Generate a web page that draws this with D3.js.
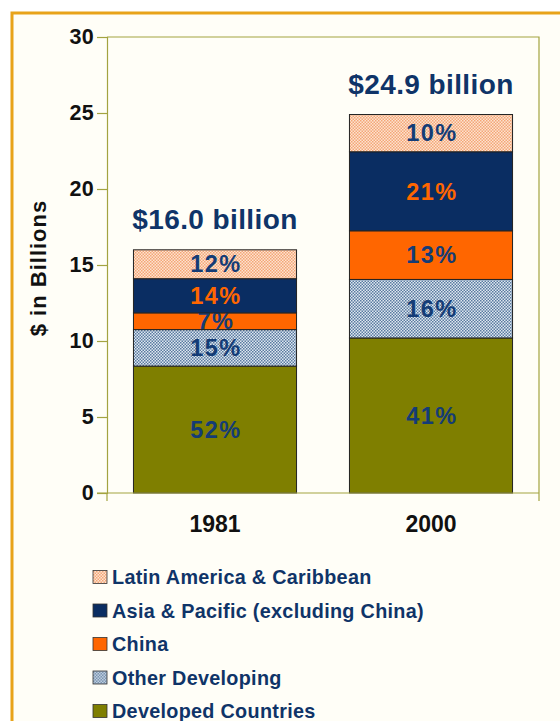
<!DOCTYPE html>
<html>
<head>
  <meta charset="UTF-8">
  <title>Spending by region, 1981 and 2000</title>
  <style>
    body { margin: 0; background: #ffffff; }
    svg { display: block; font-family: "Liberation Sans", Arial, sans-serif; }
    .y.axis .tick text { font-weight: bold; font-size: 21.5px; fill: #111; letter-spacing: 0.3px; }
    .x.axis .tick text { font-weight: bold; font-size: 23px; fill: #111; }
  </style>
</head>
<body>
<svg id="chart"></svg>

<script src="https://d3js.org/d3.v7.min.js"></script>
<script>

// values ($ billions)
const years = ["1981", "2000"];
const regions = ["Developed Countries", "Other Developing", "China", "Asia & Pacific (excluding China)", "Latin America & Caribbean"];
const values1981 = [8.35, 2.4, 1.1, 2.25, 1.9];
const values2000 = [10.2, 3.85, 3.2, 5.2, 2.45];
const shares1981 = ["52%", "15%", "7%", "14%", "12%"];
const shares2000 = ["41%", "16%", "13%", "21%", "10%"];
const totals = ["$16.0 billion", "$24.9 billion"];
const yTicks = [0, 5, 10, 15, 20, 25, 30];

let width = 560, height = 721;
let navy = "#0f3468";
let labelNavy = "#143c76";

let svg = d3.select("#chart")
    .attr("width", width)
    .attr("height", height);

// patterns for the dotted fills
let defs = svg.append("defs");
function checker(id, base, dot) {
    let p = defs.append("pattern")
        .attr("id", id)
        .attr("width", 3).attr("height", 3)
        .attr("patternUnits", "userSpaceOnUse");
    p.append("rect").attr("width", 3).attr("height", 3).attr("fill", base);
    p.append("rect").attr("width", 1.5).attr("height", 1.5).attr("fill", dot);
    p.append("rect").attr("x", 1.5).attr("y", 1.5).attr("width", 1.5).attr("height", 1.5).attr("fill", dot);
}
checker("latin", "#fde3cf", "#f4a677");
checker("otherdev", "#dfe8f0", "#5a7aa0");

let fills = ["#7f7f00", "url(#otherdev)", "#ff6600", "#0a2d62", "url(#latin)"];
let labelColors = [labelNavy, labelNavy, labelNavy, "#ff6600", labelNavy];

// frame
svg.append("rect")
    .attr("x", 12).attr("y", 13)
    .attr("width", width).attr("height", height)
    .attr("fill", "#fffef7")
    .attr("stroke", "#e8a31a")
    .attr("stroke-width", 3);

let x0 = 107, x1 = 539, y0 = 493, y1 = 37;

let x = d3.scaleBand().domain(years).range([x0, x1]).paddingInner(0.245).paddingOuter(0.1225);
let y = d3.scaleLinear().domain([0, 30]).range([y0, y1]);

let rows = years.map((yr, i) => {
    let r = { year: yr };
    let v = i == 0 ? values1981 : values2000;
    let s = i == 0 ? shares1981 : shares2000;
    regions.forEach((reg, j) => { r[reg] = v[j]; r[reg + "_s"] = s[j]; });
    return r;
});

let series = d3.stack().keys(regions)(rows);

// plot border (top & right)
svg.append("path")
    .attr("d", `M${x0},${y1}H${x1}V${y0}`)
    .attr("fill", "none")
    .attr("stroke", "#a3a340")
    .attr("stroke-width", 1.2);

// bars
let groups = svg.append("g").selectAll("g")
    .data(series)
    .enter()
    .append("g");

groups.selectAll("rect")
    .data((d, i) => d.map(e => ({ seg: e, idx: i })))
    .enter()
    .append("rect")
    .attr("x", d => x(d.seg.data.year))
    .attr("width", x.bandwidth())
    .attr("y", d => y(d.seg[1]))
    .attr("height", d => y(d.seg[0]) - y(d.seg[1]))
    .attr("fill", d => fills[d.idx])
    .attr("stroke", "#222")
    .attr("stroke-width", 1);

groups.selectAll("text")
    .data((d, i) => d.map(e => ({ seg: e, idx: i, key: d.key })))
    .enter()
    .append("text")
    .attr("x", d => x(d.seg.data.year) + x.bandwidth() / 2 + 1)
    .attr("y", d => y((d.seg[0] + d.seg[1]) / 2))
    .attr("dy", "0.35em")
    .attr("text-anchor", "middle")
    .attr("font-weight", "bold")
    .attr("font-size", 23.5)
    .attr("letter-spacing", 1.5)
    .attr("fill", d => labelColors[d.idx])
    .text(d => d.seg.data[d.key + "_s"]);

// totals above bars
svg.append("g").selectAll("text")
    .data(rows)
    .enter()
    .append("text")
    .attr("x", d => x(d.year) + x.bandwidth() / 2)
    .attr("y", (d, i) => y(series[series.length - 1][i][1]) - 21)
    .attr("text-anchor", "middle")
    .attr("font-weight", "bold")
    .attr("font-size", 28)
    .attr("letter-spacing", 0.4)
    .attr("fill", navy)
    .text((d, i) => totals[i]);

// axes
let yAxis = svg.append("g")
    .attr("class", "y axis")
    .attr("transform", `translate(${x0},0)`)
    .call(d3.axisLeft(y).tickValues(yTicks).tickSize(10).tickPadding(3));
yAxis.selectAll("line, path").attr("stroke", "#a3a340").attr("stroke-width", 1.2);

let xAxis = svg.append("g")
    .attr("class", "x axis")
    .attr("transform", `translate(0,${y0})`)
    .call(d3.axisBottom(x).tickSize(0).tickPadding(23));
xAxis.select(".domain").attr("stroke", "#a3a340").attr("stroke-width", 1.2).attr("d", `M${x0 - 10},0H${x1}`);
xAxis.selectAll("g.edge")
    .data([x0, x1]).enter()
    .append("line")
    .attr("x1", d => d).attr("x2", d => d)
    .attr("y1", 0).attr("y2", 8)
    .attr("stroke", "#a3a340").attr("stroke-width", 1.2);

svg.append("text")
    .attr("transform", "translate(46,268) rotate(-90)")
    .attr("text-anchor", "middle")
    .attr("font-weight", "bold")
    .attr("font-size", 22)
    .attr("letter-spacing", 1)
    .attr("fill", "#111")
    .text("$ in Billions");

// legend
let legendItems = regions.map((r, i) => ({ name: r, fill: fills[i] })).reverse();
let legend = svg.append("g").selectAll("g")
    .data(legendItems)
    .enter()
    .append("g")
    .attr("transform", (d, i) => `translate(93,${577 + i * 33.5})`);

legend.append("rect")
    .attr("x", 0).attr("y", -6.5)
    .attr("width", 14).attr("height", 13)
    .attr("fill", d => d.fill)
    .attr("stroke", "#333")
    .attr("stroke-width", 0.8);

legend.append("text")
    .attr("x", 19)
    .attr("dy", "0.36em")
    .attr("font-weight", "bold")
    .attr("font-size", 19.8)
    .attr("letter-spacing", 0.3)
    .attr("fill", navy)
    .text(d => d.name);

</script>
</body>
</html>
